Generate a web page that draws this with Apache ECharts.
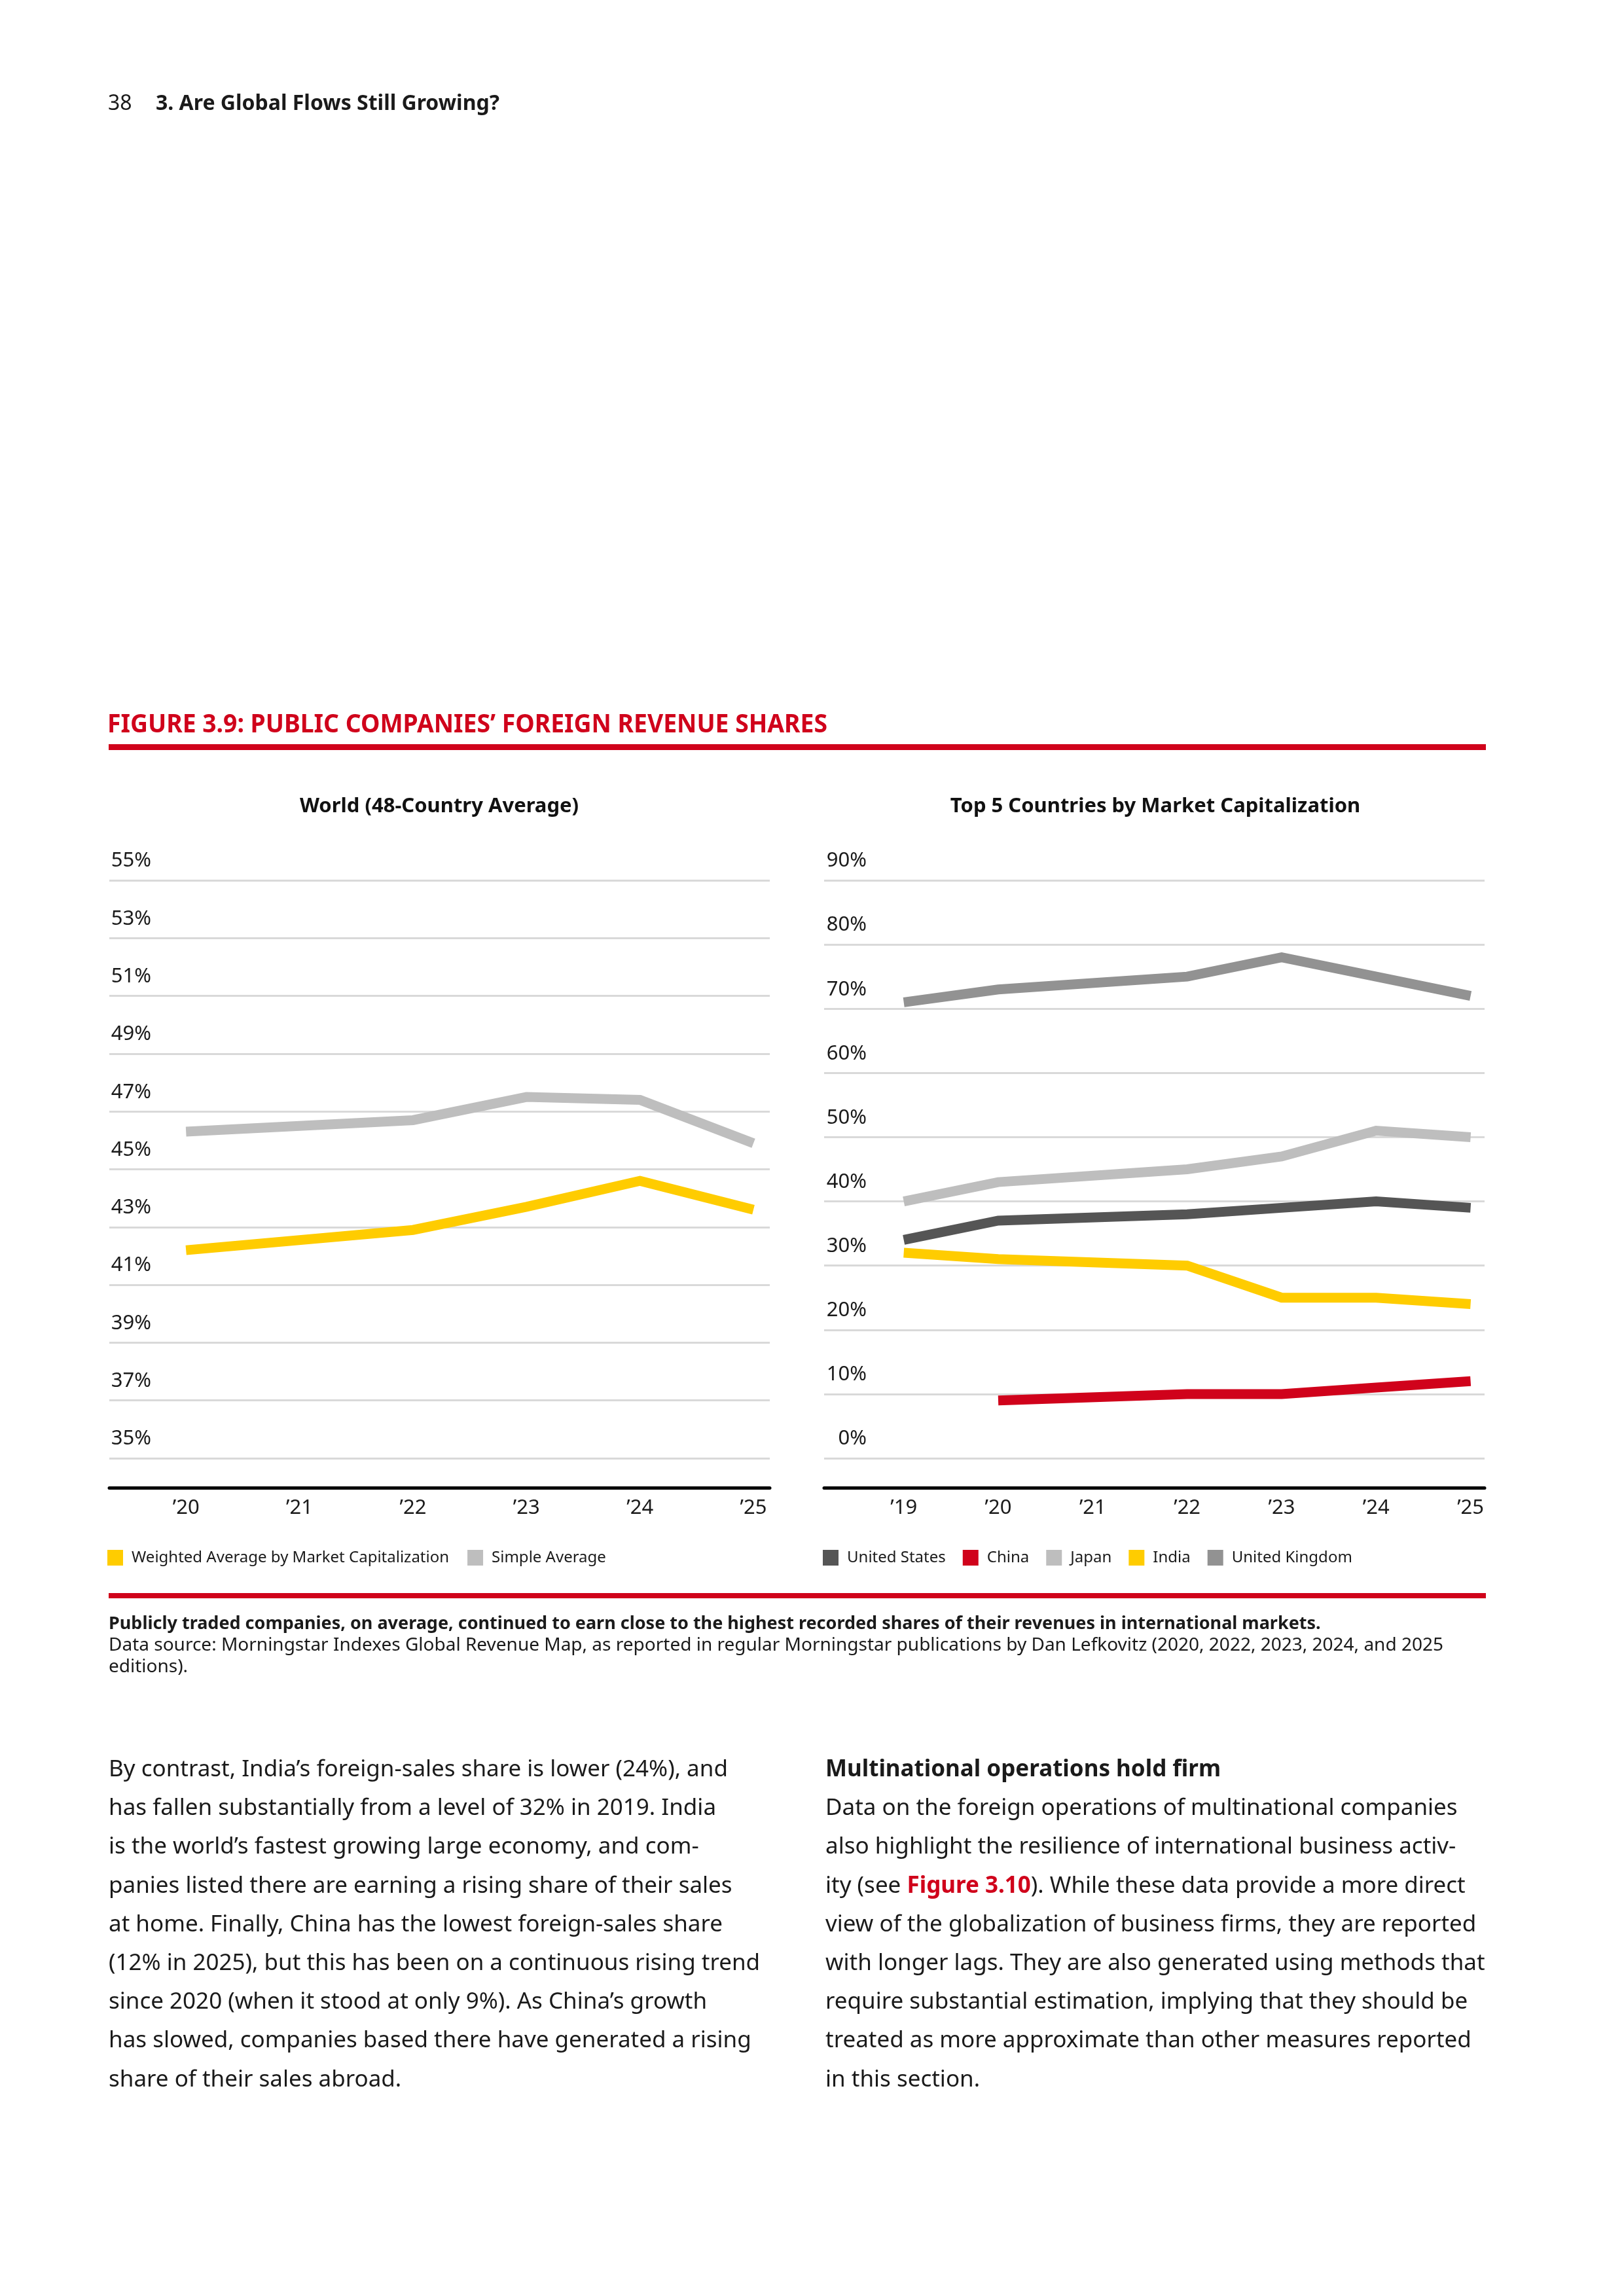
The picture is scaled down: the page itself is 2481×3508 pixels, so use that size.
<!DOCTYPE html>
<html>
<head>
<meta charset="utf-8">
<script src="https://cdn.jsdelivr.net/npm/echarts@6/dist/echarts.min.js"></script>
<style>
html,body{margin:0;padding:0;background:#fff;}
body{width:2481px;height:3508px;position:relative;overflow:hidden;font-family:'Noto Sans',sans-serif;color:#1a1a1a;}
#chart{position:absolute;left:0;top:0;width:2481px;height:3508px;}
.t{position:absolute;white-space:nowrap;}
.body div{height:59.2px;line-height:59.2px;}
</style>
</head>
<body>
<div id="chart"></div>

<div class="t" style="left:165px;top:136px;font-size:32px;line-height:40px;">38</div>
<div class="t" style="left:238px;top:136px;font-size:32px;line-height:40px;font-weight:bold;">3. Are Global Flows Still Growing?</div>

<div class="t" id="figtitle" style="left:164px;top:1081px;font-size:39px;line-height:46px;font-weight:bold;color:#D0021B;transform-origin:0 50%;">FIGURE 3.9: PUBLIC COMPANIES’ FOREIGN REVENUE SHARES</div>
<div style="position:absolute;left:166px;top:1137px;width:2104px;height:9px;background:#D0021B;"></div>

<div style="position:absolute;left:166px;top:2434px;width:2104px;height:8px;background:#D0021B;"></div>

<div class="t" style="left:166px;top:2462px;font-size:27px;line-height:33px;font-weight:bold;">Publicly traded companies, on average, continued to earn close to the highest recorded shares of their revenues in international markets.</div>
<div class="t" style="left:166px;top:2495px;font-size:28px;line-height:33px;">Data source: Morningstar Indexes Global Revenue Map, as reported in regular Morningstar publications by Dan Lefkovitz (2020, 2022, 2023, 2024, and 2025</div>
<div class="t" style="left:166px;top:2528px;font-size:28px;line-height:33px;">editions).</div>

<div class="t body" style="left:166px;top:2671px;font-size:35px;">
<div>By contrast, India’s foreign-sales share is lower (24%), and</div>
<div>has fallen substantially from a level of 32% in 2019. India</div>
<div>is the world’s fastest growing large economy, and com-</div>
<div>panies listed there are earning a rising share of their sales</div>
<div>at home. Finally, China has the lowest foreign-sales share</div>
<div>(12% in 2025), but this has been on a continuous rising trend</div>
<div>since 2020 (when it stood at only 9%). As China’s growth</div>
<div>has slowed, companies based there have generated a rising</div>
<div>share of their sales abroad.</div>
</div>

<div class="t body" style="left:1261px;top:2671px;font-size:35px;">
<div style="font-weight:bold;">Multinational operations hold firm</div>
<div>Data on the foreign operations of multinational companies</div>
<div>also highlight the resilience of international business activ-</div>
<div>ity (see <b style="color:#D0021B;">Figure 3.10</b>). While these data provide a more direct</div>
<div>view of the globalization of business firms, they are reported</div>
<div>with longer lags. They are also generated using methods that</div>
<div>require substantial estimation, implying that they should be</div>
<div>treated as more approximate than other measures reported</div>
<div>in this section.</div>
</div>

<script>
// ---------- data ----------
const worldYears = [2020, 2021, 2022, 2023, 2024, 2025];
const worldTickLabels = ['’20', '’21', '’22', '’23', '’24', '’25'];
const worldWeighted = [42.2, null, 42.9, 43.7, 44.6, 43.6];
const worldSimple = [46.3, null, 46.7, 47.5, 47.4, 45.9];
const worldNames = ['Weighted Average by Market Capitalization', 'Simple Average'];

const topYears = [2019, 2020, 2021, 2022, 2023, 2024, 2025];
const topTickLabels = ['’19', '’20', '’21', '’22', '’23', '’24', '’25'];
const usValues = [34, 37, null, 38, 39, 40, 39];
const chinaValues = [null, 9, null, 10, 10, 11, 12];
const japanValues = [40, 43, null, 45, 47, 51, 50];
const indiaValues = [32, 31, null, 30, 25, 25, 24];
const ukValues = [71, 73, null, 75, 78, 75, 72];
const topNames = ['United States', 'China', 'Japan', 'India', 'United Kingdom'];

const worldYTicks = {min: 35, max: 55, interval: 2};
const topYTicks = {min: 0, max: 90, interval: 10};

// ---------- styles ----------
const FONT = "'Noto Sans', sans-serif";
const YELLOW = '#FFCC00';
const LIGHTGRAY = '#BEBEBE';
const DARK = '#555555';
const RED = '#D0021B';
const MIDGRAY = '#929292';

// fit figure title width
(function(){
  const el = document.getElementById('figtitle');
  const w = el.getBoundingClientRect().width;
  el.style.transform = 'scaleX(' + (1100 / w) + ')';
})();

function pairs(xs, vs) {
  const out = [];
  xs.forEach((x, i) => { if (vs[i] !== null && vs[i] !== undefined) out.push([x, vs[i]]); });
  return out;
}

function yAxis(idx, ticks, margin) {
  return {
    type: 'value', gridIndex: idx, min: ticks.min, max: ticks.max, interval: ticks.interval,
    axisLine: {show: false}, axisTick: {show: false},
    splitLine: {show: true, lineStyle: {color: '#D9D9D9', width: 3}},
    axisLabel: {
      inside: true, margin: margin, align: 'right', verticalAlign: 'bottom',
      padding: [0, 0, 14, 0], fontSize: 31, color: '#1a1a1a', fontFamily: FONT,
      formatter: '{value}%', showMinLabel: true, showMaxLabel: true
    }
  };
}

function xAxis(idx, years, labels, min, max) {
  return {
    type: 'value', gridIndex: idx, min: min, max: max, offset: 45,
    axisLine: {show: true, onZero: false, lineStyle: {color: '#000', width: 5}},
    axisTick: {show: false}, splitLine: {show: false},
    axisLabel: {
      customValues: years, margin: 16, fontSize: 31, color: '#1a1a1a', fontFamily: FONT,
      formatter: function (v) { const i = years.indexOf(Math.round(v)); return i >= 0 ? labels[i] : ''; }
    }
  };
}

function line(name, xi, years, vals, color) {
  return {
    type: 'line', name: name, xAxisIndex: xi, yAxisIndex: xi,
    data: pairs(years, vals), symbol: 'none', silent: true,
    lineStyle: {width: 15, color: color, cap: 'butt', join: 'miter'},
    itemStyle: {color: color}
  };
}

const chart = echarts.init(document.getElementById('chart'), null, {width: 2481, height: 3508});
chart.setOption({
  animation: false,
  backgroundColor: 'transparent',
  textStyle: {fontFamily: FONT},
  title: [
    {text: 'World (48-Country Average)', left: 671, top: 1217, textAlign: 'center', padding: 0,
     textStyle: {fontSize: 31, fontWeight: 'bold', color: '#111', fontFamily: FONT}},
    {text: 'Top 5 Countries by Market Capitalization', left: 1765, top: 1217, textAlign: 'center', padding: 0,
     textStyle: {fontSize: 31, fontWeight: 'bold', color: '#111', fontFamily: FONT}}
  ],
  grid: [
    {left: 167, top: 1345, width: 1009, height: 883},
    {left: 1259, top: 1345, width: 1009, height: 883}
  ],
  xAxis: [
    xAxis(0, worldYears, worldTickLabels, 2019.324, 2025.144),
    xAxis(1, topYears, topTickLabels, 2018.157, 2025.148)
  ],
  yAxis: [
    yAxis(0, worldYTicks, 64),
    yAxis(1, topYTicks, 65)
  ],
  legend: [
    {data: worldNames, left: 164, top: 2368, itemWidth: 24, itemHeight: 24, itemGap: 28, icon: 'rect', padding: 0,
     selectedMode: false, textStyle: {fontSize: 24, color: '#1a1a1a', fontFamily: FONT, padding: [0, 0, 0, 8]}},
    {data: topNames, left: 1257, top: 2368, itemWidth: 24, itemHeight: 24, itemGap: 26, icon: 'rect', padding: 0,
     selectedMode: false, textStyle: {fontSize: 24, color: '#1a1a1a', fontFamily: FONT, padding: [0, 0, 0, 8]}}
  ],
  series: [
    line(worldNames[0], 0, worldYears, worldWeighted, YELLOW),
    line(worldNames[1], 0, worldYears, worldSimple, LIGHTGRAY),
    line(topNames[0], 1, topYears, usValues, DARK),
    line(topNames[1], 1, topYears, chinaValues, RED),
    line(topNames[2], 1, topYears, japanValues, LIGHTGRAY),
    line(topNames[3], 1, topYears, indiaValues, YELLOW),
    line(topNames[4], 1, topYears, ukValues, MIDGRAY)
  ]
});
</script>
</body>
</html>
